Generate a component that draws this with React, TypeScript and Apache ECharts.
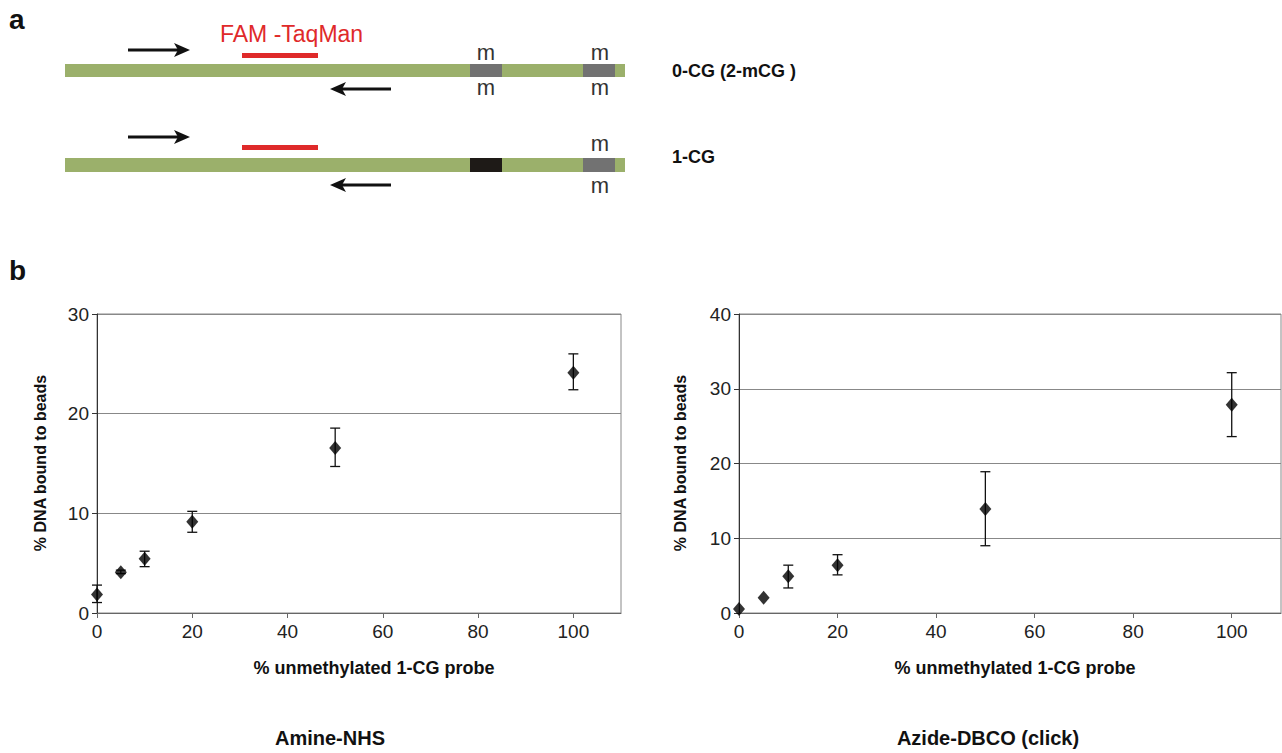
import React, { useEffect, useRef } from "react";
import * as echarts from "echarts";

const probePercent = [0, 5, 10, 20, 50, 100];
const amineMean = [1.85, 4.1, 5.45, 9.15, 16.55, 24.1];
const amineLow = [1.05, 3.95, 4.65, 8.1, 14.7, 22.4];
const amineHigh = [2.8, 4.3, 6.2, 10.2, 18.55, 26.0];
const azideMean = [0.55, 2.05, 4.9, 6.4, 13.9, 27.85];
const azideLow = [0.55, 2.05, 3.35, 5.1, 9.0, 23.6];
const azideHigh = [0.55, 2.05, 6.4, 7.8, 18.9, 32.15];
const xTicks = [0, 20, 40, 60, 80, 100];

const FONT = "'Liberation Sans', Arial, Helvetica, sans-serif";

function errorRender(params: any, api: any) {
  const x = api.value(0);
  const lo = api.value(1);
  const hi = api.value(2);
  if (hi - lo < 0.01) return { type: "group", children: [] };
  const a = api.coord([x, hi]);
  const b = api.coord([x, lo]);
  const w = 5;
  const st = { stroke: "#111", lineWidth: 1.3 };
  return {
    type: "group",
    children: [
      { type: "line", shape: { x1: a[0], y1: a[1], x2: b[0], y2: b[1] }, style: st },
      { type: "line", shape: { x1: a[0] - w, y1: a[1], x2: a[0] + w, y2: a[1] }, style: st },
      { type: "line", shape: { x1: b[0] - w, y1: b[1], x2: b[0] + w, y2: b[1] }, style: st },
    ],
  };
}

function xAxisCfg(gridIndex: number) {
  return {
    type: "value",
    gridIndex,
    min: 0,
    max: 110,
    axisLine: { show: true, onZero: false, lineStyle: { color: "#666", width: 1 } },
    axisTick: { show: true, customValues: xTicks, length: 5, lineStyle: { color: "#666" } },
    axisLabel: { customValues: xTicks, fontSize: 19, color: "#222", margin: 9, fontFamily: FONT },
    splitLine: { show: false },
  };
}

function yAxisCfg(gridIndex: number, max: number) {
  return {
    type: "value",
    gridIndex,
    min: 0,
    max,
    interval: 10,
    axisLine: { show: true, onZero: false, lineStyle: { color: "#333", width: 1 } },
    axisTick: { show: true, length: 5, lineStyle: { color: "#333" } },
    axisLabel: { fontSize: 19, color: "#222", margin: 8, fontFamily: FONT },
    splitLine: { show: true, lineStyle: { color: "#888", width: 1 } },
  };
}

function rightArrow(x1: number, x2: number, y: number) {
  return [
    { type: "line", shape: { x1, y1: y, x2: x2 - 8, y2: y }, style: { stroke: "#111", lineWidth: 3 } },
    {
      type: "polygon",
      shape: { points: [[x2, y], [x2 - 16, y - 7], [x2 - 12, y], [x2 - 16, y + 7]] },
      style: { fill: "#111" },
    },
  ];
}
function leftArrow(x1: number, x2: number, y: number) {
  return [
    { type: "line", shape: { x1: x1 + 8, y1: y, x2, y2: y }, style: { stroke: "#111", lineWidth: 3 } },
    {
      type: "polygon",
      shape: { points: [[x1, y], [x1 + 16, y - 7], [x1 + 12, y], [x1 + 16, y + 7]] },
      style: { fill: "#111" },
    },
  ];
}
function mText(x: number, y: number) {
  return {
    type: "text",
    x,
    y,
    style: {
      text: "m",
      fontSize: 22,
      fontFamily: FONT,
      fill: "#333333",
      align: "center",
      verticalAlign: "middle",
    },
  };
}
function txt(text: string, x: number, y: number, size: number, opts: any = {}) {
  return {
    type: "text",
    x,
    y,
    rotation: opts.rotation || 0,
    style: {
      text,
      fontSize: size,
      fontFamily: FONT,
      fontWeight: opts.bold ? "bold" : "normal",
      fill: opts.color || "#111",
      align: opts.align || "left",
      verticalAlign: "middle",
    },
  };
}

export default function App() {
  const ref = useRef<HTMLDivElement>(null);
  useEffect(() => {
    const chart = echarts.init(ref.current!, null, { renderer: "svg" });
    const green = "#9bb06b";
    const red = "#df2a2a";
    const grey = "#727272";
    const graphic: any[] = [
      txt("a", 9, 19, 28, { bold: true }),
      txt("b", 9, 270, 28, { bold: true }),
      txt("FAM -TaqMan", 220, 34, 23, { color: red }),
      // row 1
      ...rightArrow(128, 190, 50),
      { type: "rect", shape: { x: 242, y: 53, width: 76, height: 5 }, style: { fill: red } },
      { type: "rect", shape: { x: 65, y: 64, width: 560, height: 13 }, style: { fill: green } },
      { type: "rect", shape: { x: 470, y: 64, width: 32, height: 13 }, style: { fill: grey } },
      { type: "rect", shape: { x: 583, y: 64, width: 32, height: 13 }, style: { fill: grey } },
      mText(486, 52),
      mText(600, 52),
      mText(486, 87),
      mText(600, 87),
      ...leftArrow(330, 391, 89),
      txt("0-CG (2-mCG )", 672, 71, 18, { bold: true }),
      // row 2
      ...rightArrow(128, 190, 137),
      { type: "rect", shape: { x: 242, y: 145, width: 76, height: 5 }, style: { fill: red } },
      { type: "rect", shape: { x: 65, y: 158, width: 560, height: 14 }, style: { fill: green } },
      { type: "rect", shape: { x: 470, y: 158, width: 32, height: 14 }, style: { fill: "#1e1a17" } },
      { type: "rect", shape: { x: 583, y: 158, width: 32, height: 14 }, style: { fill: grey } },
      mText(600, 143),
      mText(600, 185),
      ...leftArrow(330, 391, 185),
      txt("1-CG", 672, 157, 18, { bold: true }),
      // axis titles
      txt("% DNA bound to beads", 40, 463, 16, { bold: true, align: "center", rotation: Math.PI / 2 }),
      txt("% DNA bound to beads", 680, 463, 16, { bold: true, align: "center", rotation: Math.PI / 2 }),
      txt("% unmethylated 1-CG probe", 374, 668, 18, { bold: true, align: "center" }),
      txt("% unmethylated 1-CG probe", 1015, 668, 18, { bold: true, align: "center" }),
      txt("Amine-NHS", 330, 738, 20, { bold: true, align: "center" }),
      txt("Azide-DBCO (click)", 988, 738, 20, { bold: true, align: "center" }),
    ];

    const option: any = {
      animation: false,
      backgroundColor: "#fff",
      grid: [
        { left: 97, top: 314, width: 524, height: 299, show: true, borderColor: "#888", borderWidth: 1, backgroundColor: "transparent" },
        { left: 739, top: 314, width: 542, height: 299, show: true, borderColor: "#888", borderWidth: 1, backgroundColor: "transparent" },
      ],
      xAxis: [xAxisCfg(0), xAxisCfg(1)],
      yAxis: [yAxisCfg(0, 30), yAxisCfg(1, 40)],
      graphic,
      series: [
        {
          type: "custom",
          xAxisIndex: 0,
          yAxisIndex: 0,
          renderItem: errorRender,
          encode: { x: 0, y: [1, 2] },
          data: probePercent.map((x, i) => [x, amineLow[i], amineHigh[i]]),
          z: 3,
        },
        {
          type: "custom",
          xAxisIndex: 1,
          yAxisIndex: 1,
          renderItem: errorRender,
          encode: { x: 0, y: [1, 2] },
          data: probePercent.map((x, i) => [x, azideLow[i], azideHigh[i]]),
          z: 3,
        },
        {
          type: "scatter",
          xAxisIndex: 0,
          yAxisIndex: 0,
          symbol: "diamond",
          symbolSize: [12, 14],
          itemStyle: { color: "#000" },
          data: probePercent.map((x, i) => [x, amineMean[i]]),
          z: 4,
        },
        {
          type: "scatter",
          xAxisIndex: 1,
          yAxisIndex: 1,
          symbol: "diamond",
          symbolSize: [12, 14],
          itemStyle: { color: "#000" },
          data: probePercent.map((x, i) => [x, azideMean[i]]),
          z: 4,
        },
      ],
    };
    chart.setOption(option);
    return () => chart.dispose();
  }, []);
  return (
    <div
      ref={ref}
      style={{ position: "fixed", left: 0, top: 0, width: 1282, height: 753, background: "#fff" }}
    />
  );
}
